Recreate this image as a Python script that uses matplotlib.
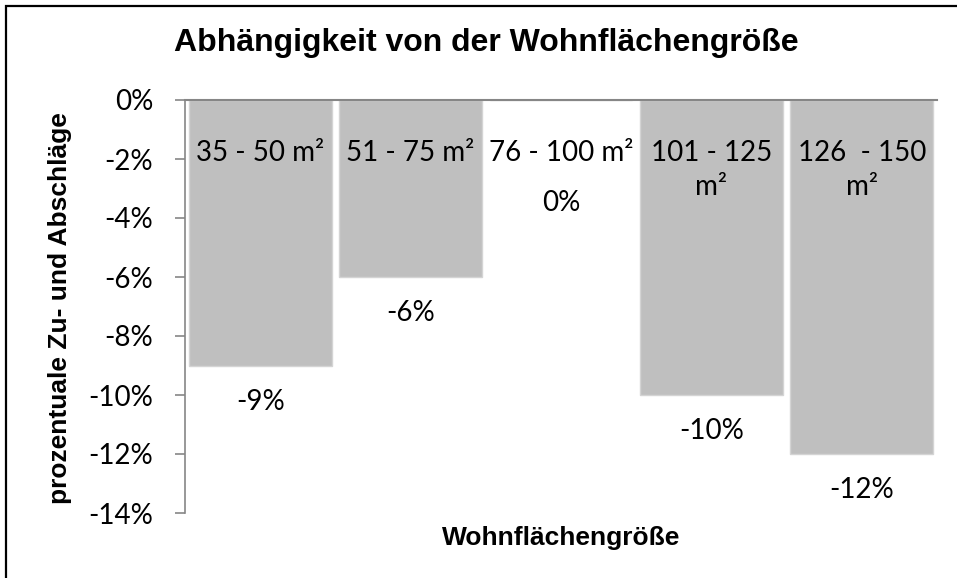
import numpy as np
import matplotlib.pyplot as plt
from matplotlib.patches import Rectangle

kategorien = ['35 - 50 m²', '51 - 75 m²', '76 - 100 m²', '101 - 125\nm²', '126  - 150\nm²']
werte = [-9, -6, 0, -10, -12]
y_ticks = [0, -2, -4, -6, -8, -10, -12, -14]

label_font = 'Lato'
head_font = 'Liberation Sans'

fig = plt.figure(figsize=(9.57, 5.78), dpi=100)
ax = fig.add_axes([185 / 957, 1 - 513 / 578, 752 / 957, 413 / 578])

x_pos = np.arange(len(kategorien))
ax.bar(x_pos, werte, width=0.95, color='#bfbfbf', edgecolor='#d4d4d4', linewidth=1)

ax.set_xlim(-0.5, len(kategorien) - 0.5)
ax.set_ylim(-14, 0)
ax.set_yticks(y_ticks)
ax.set_yticklabels(['%d%%' % v for v in y_ticks], fontfamily=label_font, fontsize=20)
ax.set_xticks([])

for s in ['right', 'bottom']:
    ax.spines[s].set_visible(False)
ax.spines['left'].set_color('#868686')
ax.spines['left'].set_linewidth(1.2)
ax.spines['top'].set_color('#868686')
ax.spines['top'].set_linewidth(1.5)
ax.tick_params(axis='y', direction='out', length=7, width=1.2, color='#868686', pad=16)

# Kategorienamen oben in den Balken (zeilenweise)
for i, name in enumerate(kategorien):
    for k, zeile in enumerate(name.split('\n')):
        ax.annotate(zeile, xy=(i, 0), xytext=(0, -44 - 24.5 * k), textcoords='offset points',
                    ha='center', va='baseline', fontfamily=label_font, fontsize=20)

# Werte unter den Balken
for i, v in enumerate(werte):
    off = -32 if v != 0 else -80
    ax.annotate('%d%%' % v, xy=(i, v), xytext=(0, off), textcoords='offset points',
                ha='center', va='baseline', fontfamily=label_font, fontsize=20)

fig.text(486 / 957, 1 - 43 / 578, 'Abhängigkeit von der Wohnflächengröße',
         ha='center', va='center', fontfamily=head_font, fontweight='bold', fontsize=23)
fig.text(60 / 957, 1 - 308 / 578, 'prozentuale Zu- und Abschläge', rotation=90,
         ha='center', va='center', fontfamily=head_font, fontweight='bold', fontsize=19)
fig.text(561 / 957, 1 - 538 / 578, 'Wohnflächengröße',
         ha='center', va='center', fontfamily=head_font, fontweight='bold', fontsize=19)

# Rahmen (nur links und oben sichtbar)
fig.patches.append(Rectangle((6 / 957, -0.1), 1.2, 1 - 6 / 578 + 0.1,
                             transform=fig.transFigure, fill=False,
                             edgecolor='black', linewidth=1.6))

fig.savefig('out.png', dpi=100)
